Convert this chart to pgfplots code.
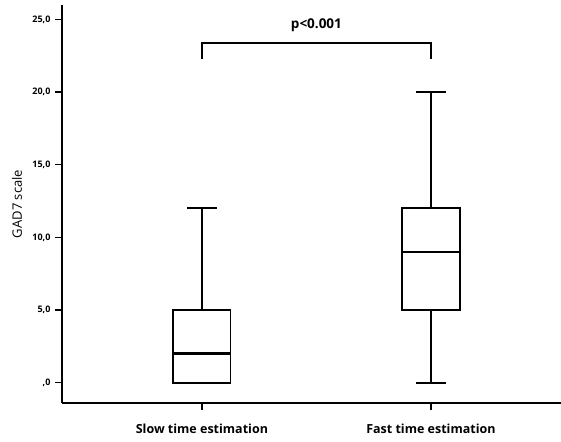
\documentclass[border=0pt]{standalone}
\usepackage{pgfplots}
\usepackage{fontspec}
\setmainfont{Open Sans}
\pgfplotsset{compat=1.18}
\usepgfplotslibrary{statistics}

\begin{document}
\begin{tikzpicture}
\begin{axis}[
  name=ax,
  scale only axis,
  width=499pt,height=398pt,
  xmin=0.389,xmax=2.568,
  ymin=-1.4,ymax=26,
  axis x line*=bottom,axis y line*=left,
  axis line style={line width=1.4pt,-},
  xtick={1,2},
  xticklabels={Slow time estimation,Fast time estimation},
  ytick={0,5,10,15,20,25},
  yticklabels={{,0},{5,0},{10,0},{15,0},{20,0},{25,0}},
  tick align=outside,
  major tick length=7pt,
  tick style={line width=1.4pt,black},
  yticklabel style={font=\fontsize{9}{10}\selectfont\bfseries,xshift=-1pt},
  xticklabel style={font=\fontsize{12.5}{14}\selectfont\bfseries,yshift=-10pt},
  ylabel={GAD7 scale},
  ylabel style={at={(axis description cs:-0.09,0.5)},anchor=center,
    font=\fontsize{13}{15}\selectfont},
  boxplot/draw direction=y,
  boxplot/box extend=0.25,
  boxplot/whisker extend=0.13,
  clip=false,
]
\addplot[black,line width=1.9pt,boxplot prepared={
  lower whisker=0,lower quartile=0,median=2,upper quartile=5,upper whisker=12,draw position=1},
  boxplot/every median/.style={line width=2.5pt}] coordinates {};
\addplot[black,line width=1.9pt,boxplot prepared={
  lower whisker=0,lower quartile=5,median=9,upper quartile=12,upper whisker=20,draw position=2},
  boxplot/every median/.style={line width=2.5pt}] coordinates {};
\draw[line width=1.8pt] (axis cs:1,22.3) -- (axis cs:1,23.4) -- (axis cs:2,23.4) -- (axis cs:2,22.3);
\node[font=\fontsize{13.5}{15}\selectfont\bfseries] at (axis cs:1.5,24.6) {p<0.001};
\end{axis}
\pgfresetboundingbox
\path ([xshift=-62pt,yshift=-38pt]ax.south west) rectangle ([yshift=5pt]ax.north east);
\end{tikzpicture}
\end{document}
